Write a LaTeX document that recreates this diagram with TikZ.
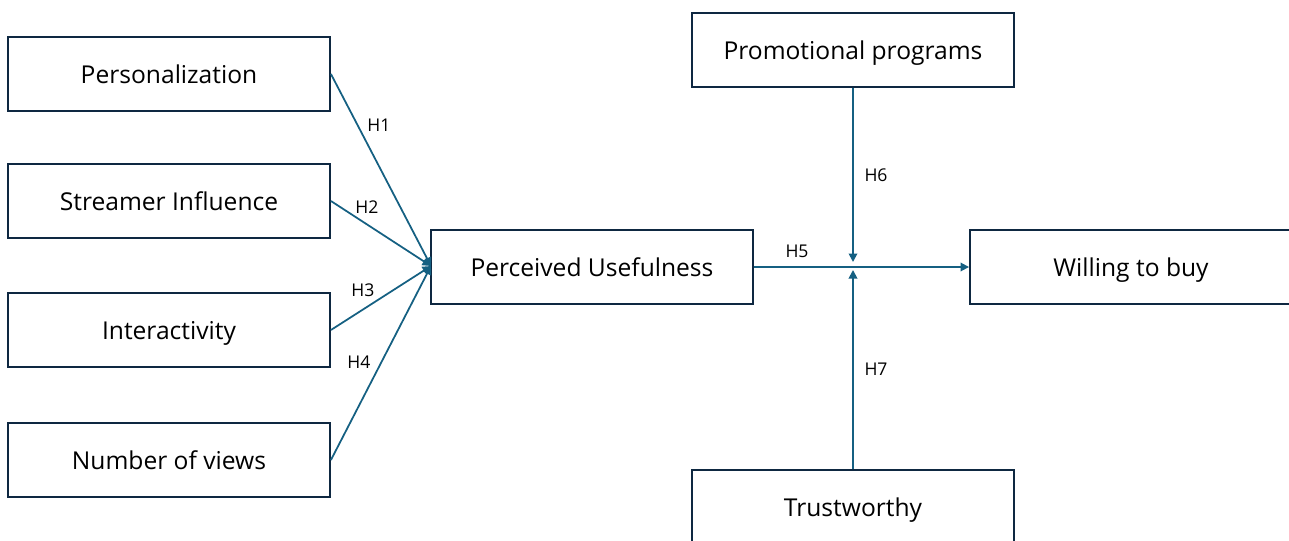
\documentclass[tikz,border=0pt]{standalone}
\usepackage{fontspec}
\setmainfont{Open Sans}
\usetikzlibrary{arrows.meta}
\definecolor{boxline}{HTML}{0E2841}
\definecolor{arrowblue}{HTML}{156082}
\tikzset{
    construct/.style={draw=boxline, line width=1.1pt, fill=white, minimum width=6.44cm,
        minimum height=1.48cm, inner sep=0pt, text height=13.5pt, text depth=3pt,
        font=\fontsize{14}{16}\selectfont},
    path/.style={draw=arrowblue, line width=1pt, -{Triangle[length=1.7mm,width=1.7mm]}},
    hyp/.style={font=\fontsize{10}{12}\selectfont, inner sep=1pt}
}

\begin{document}
\begin{tikzpicture}[x=0.02cm, y=-0.02cm]
    \useasboundingbox (0,0) rectangle (1289,541);

    % Draw the constructs
    \node[construct] (pers)  at (169,74)  {Personalization};
    \node[construct] (strm)  at (169,201) {Streamer Influence};
    \node[construct] (inter) at (169,330) {Interactivity};
    \node[construct] (views) at (169,460) {Number of views};
    \node[construct] (pu)    at (592,267) {Perceived Usefulness};
    \node[construct] (promo) at (853,50)  {Promotional programs};
    \node[construct] (wtb)   at (1131,267) {Willing to buy};
    \node[construct] (trust) at (853,507) {Trustworthy};

    % Meeting points
    \coordinate (conv) at (431,266);
    \coordinate (modtop) at (853,262);
    \coordinate (modbot) at (853,270);

    % Draw arrows
    \draw[path] (pers.east)  -- (conv);
    \draw[path] (strm.east)  -- (conv);
    \draw[path] (inter.east) -- (conv);
    \draw[path] (views.east) -- (conv);
    \draw[path] (pu.east) -- (wtb.west);
    \draw[path] (promo.south) -- (modtop);
    \draw[path] (trust.north) -- (modbot);

    % Hypothesis labels
    \node[hyp] (h1) at (379,125) {H1};
    \node[hyp] (h2) at (367,207) {H2};
    \node[hyp] (h3) at (363,290) {H3};
    \node[hyp] (h4) at (359,362) {H4};
    \node[hyp] (h5) at (797,251) {H5};
    \node[hyp] (h6) at (876,175) {H6};
    \node[hyp] (h7) at (876,369) {H7};
\end{tikzpicture}
\end{document}
